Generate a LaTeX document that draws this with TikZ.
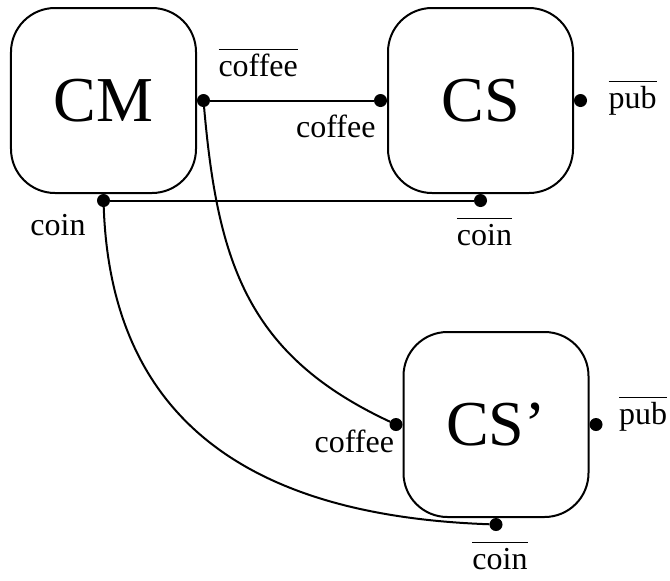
\documentclass[tikz,border=0pt]{standalone}
\usepackage{fontspec}
\setmainfont{Liberation Serif}
\usetikzlibrary{positioning}

% co-name of an action: overlined at a fixed height
\newcommand{\outp}[1]{\ensuremath{\overline{\mbox{\rule{0pt}{12pt}#1}}}}

\tikzset{
  agent/.style={draw,line width=1pt,rounded corners=22pt,minimum size=92.5pt,
    inner sep=0pt,font=\fontsize{32}{38}\selectfont},
  port/.style={circle,fill,inner sep=0pt,outer sep=0pt,minimum size=6.5pt},
  lbl/.style={inner sep=0pt,outer sep=0pt,font=\fontsize{16}{19}\selectfont}
}

\begin{document}
\begin{tikzpicture}[line width=1pt,node distance=95pt]
   \useasboundingbox (-51.75pt,-239.75pt) rectangle (283.25pt,50.25pt);

   \node[agent] (cm) at (0,0) {CM};
   \node[agent] (cs) [right=of cm] {CS};
   \node[agent] (csp) [below=68.5pt of cs, xshift=7.75pt] {CS’};

   % ports
   \node[port,anchor=west]  (cmcoffee)  at (cm.east)   {};
   \node[port,anchor=north] (cmcoin)    at (cm.south)  {};
   \node[port,anchor=east]  (cscoffee)  at (cs.west)   {};
   \node[port,anchor=west]  (cspub)     at (cs.east)   {};
   \node[port,anchor=north] (cscoin)    at (cs.south)  {};
   \node[port,anchor=east]  (cspcoffee) at (csp.west)  {};
   \node[port,anchor=west]  (csppub)    at (csp.east)  {};
   \node[port,anchor=north] (cspcoin)   at (csp.south) {};

   % port names
   \node[lbl,anchor=base west] at ([shift={(7.5pt,12pt)}]cmcoffee.center)    {\outp{coffee}};
   \node[lbl,anchor=base east] at ([shift={(-9pt,-17.5pt)}]cmcoin.center)    {coin};
   \node[lbl,anchor=base east] at ([shift={(-2.5pt,-18.5pt)}]cscoffee.center) {coffee};
   \node[lbl,anchor=base west] at ([shift={(14pt,-4pt)}]cspub.center)        {\outp{pub}};
   \node[lbl,anchor=base]      at ([shift={(2pt,-22.5pt)}]cscoin.center)     {\outp{coin}};
   \node[lbl,anchor=base east] at ([shift={(-1pt,-14pt)}]cspcoffee.center)   {coffee};
   \node[lbl,anchor=base west] at ([shift={(11.5pt,0pt)}]csppub.center)      {\outp{pub}};
   \node[lbl,anchor=base]      at ([shift={(2pt,-22.5pt)}]cspcoin.center)    {\outp{coin}};

   % links
   \draw (cmcoffee) -- (cscoffee);
   \draw (cmcoin) -- (cscoin);
   \draw (cmcoffee) to[out=-85,in=155,looseness=1.1] (cspcoffee);
   \draw (cmcoin) to[out=-88,in=178,looseness=1.15] (cspcoin);
\end{tikzpicture}
\end{document}
